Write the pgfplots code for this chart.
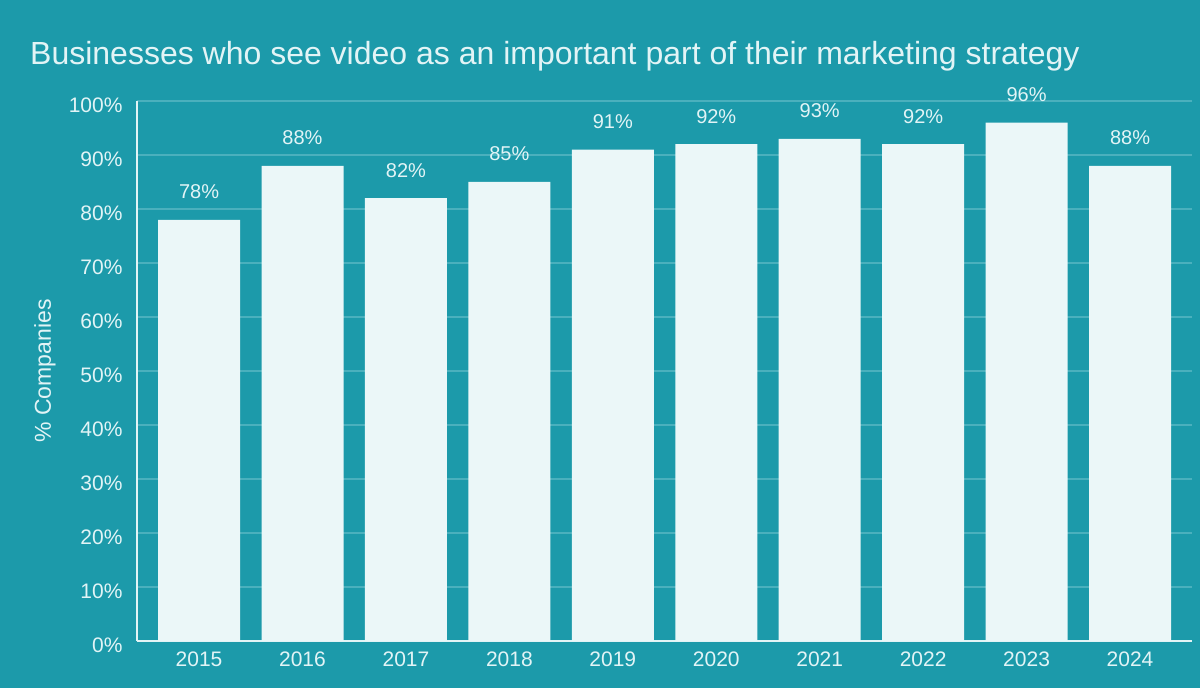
\documentclass[border=0pt]{standalone}
\usepackage{pgfplots}
\pgfplotsset{compat=1.18}
\usepackage{fontspec}
\setmainfont{Liberation Sans}

\definecolor{bgteal}{HTML}{1C9AAA}
\definecolor{barfill}{HTML}{EBF7F8}
\definecolor{txt}{HTML}{E2F4F6}
\definecolor{gridc}{HTML}{4AB0BD}

\begin{document}
\begin{tikzpicture}
\fill[bgteal] (0,0) rectangle (1200pt,688pt);
\node[anchor=base west, text=txt, inner sep=0, font=\fontsize{32}{38}\selectfont]
  at (30pt,623pt) {Businesses who see video as an important part of their marketing strategy};
\node[rotate=90, text=txt, inner sep=0, font=\fontsize{23}{27}\selectfont]
  at (45pt,317pt) {\% Companies};
\begin{axis}[
	scale only axis,
	width=1055pt, height=540pt,
	at={(137pt,47pt)}, anchor=south west,
	ybar, bar width=82pt,
	xmin=-0.6, xmax=9.6,
	ymin=0, ymax=100,
	enlargelimits=false,
	clip=false,
	xtick=data,
	xticklabels={2015,2016,2017,2018,2019,2020,2021,2022,2023,2024},
	ytick={0,10,...,100},
	yticklabel={\pgfmathprintnumber{\tick}\%},
	/pgf/number format/assume math mode=true,
	major tick length=0pt,
	ymajorgrids,
	grid style={gridc, line width=1.2pt},
	axis x line*=bottom,
	axis y line*=left,
	axis line style={txt, line width=1.2pt, -},
	tick label style={text=txt, font=\fontsize{21}{25}\selectfont},
	yticklabel style={xshift=-11pt, yshift=-4pt},
	xticklabel style={yshift=-7pt},
	nodes near coords={\pgfmathprintnumber{\pgfplotspointmeta}\%},
	every node near coord/.append style={anchor=base, yshift=21pt, inner sep=0,
		text=txt, font=\fontsize{20}{24}\selectfont},
]
\addplot[fill=barfill, draw=none] coordinates {
	(0,78) (1,88) (2,82) (3,85) (4,91) (5,92) (6,93) (7,92) (8,96) (9,88)};
\end{axis}
\pgfresetboundingbox
\path[use as bounding box] (0,0) rectangle (1200pt,688pt);
\end{tikzpicture}
\end{document}
